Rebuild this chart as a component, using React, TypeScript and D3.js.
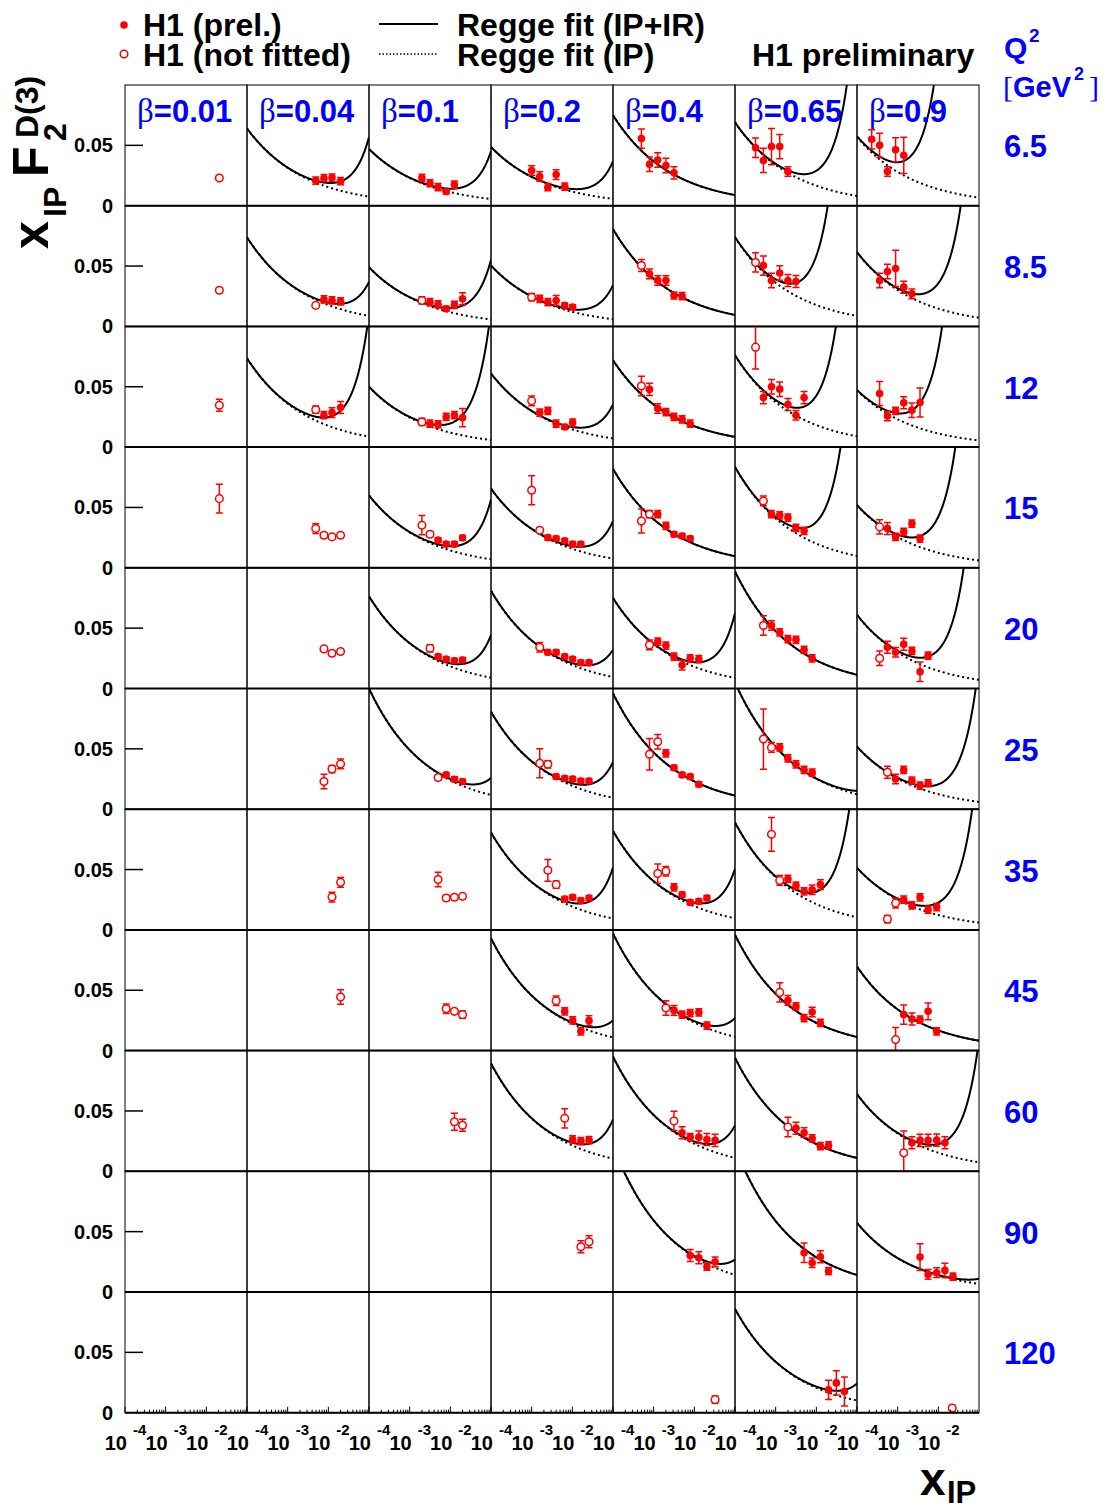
import React, { useEffect, useRef } from "react";
import * as d3 from "d3";

// bins of the grid
const betaBins = ["0.01", "0.04", "0.1", "0.2", "0.4", "0.65", "0.9"];
const q2Bins = ["6.5", "8.5", "12", "15", "20", "25", "35", "45", "60", "90", "120"];
const xTickExponents = [-4, -3, -2];

// each point: [beta index, x_IP, x_IP F2D(3), error, fitted (1) / not fitted (0)]
type Pt = [number, number, number, number, number];

const q2_6_5: Pt[] = [
  [0, 0.0209, 0.023, 0.002, 0],
  [1, 0.0049, 0.0208, 0.003, 1], [1, 0.0078, 0.0228, 0.003, 1], [1, 0.0123, 0.0233, 0.003, 1], [1, 0.02, 0.0203, 0.003, 1],
  [2, 0.002, 0.023, 0.003, 1], [2, 0.00316, 0.0186, 0.003, 1], [2, 0.005, 0.0153, 0.003, 1], [2, 0.0079, 0.0117, 0.002, 1], [2, 0.0126, 0.0175, 0.003, 1],
  [3, 0.001, 0.0292, 0.004, 1], [3, 0.00158, 0.0242, 0.004, 1], [3, 0.0025, 0.0153, 0.003, 1], [3, 0.004, 0.0258, 0.004, 1], [3, 0.0065, 0.0158, 0.003, 1],
  [4, 0.0005, 0.0556, 0.008, 1], [4, 0.00079, 0.0344, 0.006, 1], [4, 0.00126, 0.0378, 0.006, 1], [4, 0.002, 0.0333, 0.006, 1], [4, 0.00316, 0.0272, 0.005, 1],
  [5, 0.00032, 0.048, 0.008, 1], [5, 0.0005, 0.0375, 0.01, 1], [5, 0.00079, 0.049, 0.015, 1], [5, 0.00126, 0.049, 0.01, 1], [5, 0.002, 0.0283, 0.004, 1],
  [6, 0.00023, 0.055, 0.008, 1], [6, 0.00036, 0.05, 0.01, 1], [6, 0.00056, 0.0283, 0.004, 1], [6, 0.00089, 0.0464, 0.01, 1], [6, 0.00141, 0.0417, 0.015, 1],
];

const q2_8_5: Pt[] = [
  [0, 0.0209, 0.03, 0.002, 0],
  [1, 0.0049, 0.0174, 0.002, 0], [1, 0.0078, 0.0223, 0.003, 1], [1, 0.0123, 0.0215, 0.003, 1], [1, 0.02, 0.0207, 0.003, 1],
  [2, 0.002, 0.0215, 0.003, 0], [2, 0.00316, 0.0201, 0.003, 1], [2, 0.005, 0.0182, 0.003, 1], [2, 0.0079, 0.0146, 0.002, 1], [2, 0.0126, 0.0179, 0.003, 1], [2, 0.02, 0.0229, 0.005, 1],
  [3, 0.001, 0.0242, 0.003, 0], [3, 0.00158, 0.0229, 0.003, 1], [3, 0.0025, 0.0201, 0.003, 1], [3, 0.004, 0.0215, 0.004, 1], [3, 0.0065, 0.0174, 0.002, 1], [3, 0.0102, 0.016, 0.002, 1],
  [4, 0.0005, 0.0504, 0.005, 0], [4, 0.00079, 0.0435, 0.004, 1], [4, 0.00126, 0.038, 0.004, 1], [4, 0.002, 0.038, 0.004, 1], [4, 0.00316, 0.0256, 0.003, 1], [4, 0.005, 0.025, 0.003, 1],
  [5, 0.00032, 0.053, 0.008, 0], [5, 0.0005, 0.0504, 0.008, 1], [5, 0.00079, 0.038, 0.006, 1], [5, 0.00126, 0.0443, 0.006, 1], [5, 0.002, 0.038, 0.005, 1], [5, 0.00316, 0.0372, 0.005, 1],
  [6, 0.00036, 0.038, 0.006, 1], [6, 0.00056, 0.0455, 0.006, 1], [6, 0.00089, 0.048, 0.015, 1], [6, 0.00141, 0.0325, 0.005, 1], [6, 0.00224, 0.027, 0.004, 1],
];

const q2_12: Pt[] = [
  [0, 0.0209, 0.0347, 0.005, 0],
  [1, 0.0049, 0.031, 0.003, 0], [1, 0.0078, 0.0264, 0.003, 1], [1, 0.0123, 0.0286, 0.004, 1], [1, 0.02, 0.0328, 0.005, 1],
  [2, 0.002, 0.0208, 0.003, 0], [2, 0.00316, 0.0194, 0.003, 1], [2, 0.005, 0.0189, 0.003, 1], [2, 0.0079, 0.025, 0.003, 1], [2, 0.0126, 0.0264, 0.003, 1], [2, 0.02, 0.0244, 0.0075, 1],
  [3, 0.001, 0.0383, 0.004, 0], [3, 0.00158, 0.0286, 0.003, 1], [3, 0.0025, 0.03, 0.003, 1], [3, 0.004, 0.0194, 0.003, 1], [3, 0.0065, 0.0167, 0.002, 1], [3, 0.0102, 0.0203, 0.003, 1],
  [4, 0.0005, 0.0506, 0.008, 0], [4, 0.00079, 0.0478, 0.005, 1], [4, 0.00126, 0.032, 0.004, 1], [4, 0.002, 0.029, 0.003, 1], [4, 0.00316, 0.025, 0.003, 1], [4, 0.005, 0.023, 0.003, 1], [4, 0.0079, 0.0194, 0.003, 1],
  [5, 0.00032, 0.0828, 0.018, 0], [5, 0.0005, 0.041, 0.005, 1], [5, 0.00079, 0.05, 0.006, 1], [5, 0.00126, 0.048, 0.006, 1], [5, 0.002, 0.0353, 0.005, 1], [5, 0.00316, 0.0264, 0.004, 1], [5, 0.005, 0.041, 0.005, 1],
  [6, 0.00036, 0.0444, 0.01, 1], [6, 0.00056, 0.0258, 0.004, 1], [6, 0.00089, 0.03, 0.003, 1], [6, 0.00141, 0.0367, 0.005, 1], [6, 0.00224, 0.0306, 0.006, 1], [6, 0.00355, 0.037, 0.012, 1],
];

const q2_15: Pt[] = [
  [0, 0.0209, 0.0573, 0.012, 0],
  [1, 0.0049, 0.0325, 0.004, 0], [1, 0.0078, 0.027, 0.002, 0], [1, 0.0123, 0.0256, 0.002, 0], [1, 0.02, 0.027, 0.002, 0],
  [2, 0.002, 0.0353, 0.008, 0], [2, 0.00316, 0.0278, 0.002, 0], [2, 0.005, 0.0229, 0.002, 1], [2, 0.0079, 0.0196, 0.002, 1], [2, 0.0126, 0.0196, 0.002, 1], [2, 0.02, 0.0248, 0.002, 1],
  [3, 0.001, 0.0642, 0.012, 0], [3, 0.00158, 0.0311, 0.002, 0], [3, 0.0025, 0.025, 0.002, 1], [3, 0.004, 0.0242, 0.002, 1], [3, 0.0065, 0.0223, 0.002, 1], [3, 0.0102, 0.0196, 0.002, 1], [3, 0.0162, 0.0196, 0.002, 1],
  [4, 0.0005, 0.0388, 0.01, 0], [4, 0.00079, 0.0444, 0.003, 0], [4, 0.00126, 0.0444, 0.003, 1], [4, 0.002, 0.0347, 0.003, 1], [4, 0.00316, 0.0278, 0.002, 1], [4, 0.005, 0.0264, 0.002, 1], [4, 0.0079, 0.0242, 0.002, 1],
  [5, 0.0005, 0.0554, 0.004, 0], [5, 0.00079, 0.0444, 0.003, 1], [5, 0.00126, 0.0435, 0.003, 1], [5, 0.002, 0.0416, 0.003, 1], [5, 0.00316, 0.033, 0.003, 1], [5, 0.005, 0.0306, 0.003, 1],
  [6, 0.00036, 0.0339, 0.006, 0], [6, 0.00056, 0.0325, 0.005, 1], [6, 0.00089, 0.0256, 0.003, 1], [6, 0.00141, 0.0298, 0.003, 1], [6, 0.00224, 0.0366, 0.003, 1], [6, 0.00355, 0.0242, 0.003, 1],
];

const q2_20: Pt[] = [
  [1, 0.0078, 0.0328, 0.002, 0], [1, 0.0123, 0.0292, 0.002, 0], [1, 0.02, 0.0306, 0.002, 0],
  [2, 0.00316, 0.0333, 0.003, 0], [2, 0.005, 0.0264, 0.002, 1], [2, 0.0079, 0.0244, 0.002, 1], [2, 0.0126, 0.023, 0.002, 1], [2, 0.02, 0.0236, 0.002, 1],
  [3, 0.00158, 0.0342, 0.004, 0], [3, 0.0025, 0.03, 0.002, 1], [3, 0.004, 0.03, 0.002, 1], [3, 0.0065, 0.0264, 0.002, 1], [3, 0.0102, 0.0244, 0.002, 1], [3, 0.0162, 0.0214, 0.002, 1], [3, 0.0257, 0.0214, 0.002, 1],
  [4, 0.00079, 0.0361, 0.004, 0], [4, 0.00126, 0.0389, 0.003, 1], [4, 0.002, 0.0356, 0.003, 1], [4, 0.00316, 0.0264, 0.003, 1], [4, 0.005, 0.0194, 0.004, 1], [4, 0.0079, 0.025, 0.003, 1], [4, 0.0129, 0.0244, 0.003, 1],
  [5, 0.0005, 0.0522, 0.008, 0], [5, 0.00079, 0.0522, 0.004, 1], [5, 0.00126, 0.0464, 0.003, 1], [5, 0.002, 0.041, 0.003, 1], [5, 0.00316, 0.0403, 0.003, 1], [5, 0.005, 0.032, 0.003, 1], [5, 0.0079, 0.025, 0.003, 1],
  [6, 0.00036, 0.025, 0.006, 0], [6, 0.00056, 0.0342, 0.005, 1], [6, 0.00089, 0.03, 0.004, 1], [6, 0.00141, 0.0367, 0.005, 1], [6, 0.00224, 0.0311, 0.003, 1], [6, 0.00355, 0.0139, 0.008, 1], [6, 0.0056, 0.0272, 0.003, 1],
];

const q2_25: Pt[] = [
  [1, 0.0078, 0.0229, 0.006, 0], [1, 0.0123, 0.0333, 0.003, 0], [1, 0.02, 0.0375, 0.004, 0],
  [2, 0.005, 0.0262, 0.002, 0], [2, 0.0079, 0.0284, 0.002, 1], [2, 0.0126, 0.0248, 0.002, 1], [2, 0.02, 0.0229, 0.002, 1],
  [3, 0.00158, 0.038, 0.012, 0], [3, 0.0025, 0.0372, 0.003, 0], [3, 0.004, 0.027, 0.002, 1], [3, 0.0065, 0.0256, 0.002, 1], [3, 0.0102, 0.025, 0.002, 1], [3, 0.0162, 0.0234, 0.002, 1], [3, 0.0257, 0.0234, 0.002, 1],
  [4, 0.00079, 0.0455, 0.013, 0], [4, 0.00126, 0.0559, 0.006, 0], [4, 0.002, 0.0463, 0.003, 1], [4, 0.00316, 0.0344, 0.002, 1], [4, 0.005, 0.0284, 0.002, 1], [4, 0.0079, 0.027, 0.002, 1], [4, 0.0129, 0.0207, 0.002, 1],
  [5, 0.0005, 0.0581, 0.025, 0], [5, 0.00079, 0.0512, 0.004, 0], [5, 0.00126, 0.0512, 0.003, 1], [5, 0.002, 0.0421, 0.003, 1], [5, 0.00316, 0.0372, 0.003, 1], [5, 0.005, 0.0325, 0.003, 1], [5, 0.0079, 0.0303, 0.003, 1],
  [6, 0.00056, 0.0306, 0.005, 0], [6, 0.00089, 0.025, 0.004, 1], [6, 0.00141, 0.0325, 0.003, 1], [6, 0.00224, 0.0237, 0.003, 1], [6, 0.00355, 0.0196, 0.003, 1], [6, 0.0056, 0.0215, 0.003, 1],
];

const q2_35: Pt[] = [
  [1, 0.0123, 0.0272, 0.004, 0], [1, 0.02, 0.0394, 0.004, 0],
  [2, 0.005, 0.0417, 0.006, 0], [2, 0.0079, 0.0264, 0.002, 0], [2, 0.0126, 0.027, 0.002, 0], [2, 0.02, 0.0278, 0.002, 0],
  [3, 0.0025, 0.0494, 0.009, 0], [3, 0.004, 0.0375, 0.003, 0], [3, 0.0065, 0.0256, 0.002, 1], [3, 0.0102, 0.027, 0.002, 1], [3, 0.0162, 0.0244, 0.002, 1], [3, 0.0257, 0.0264, 0.002, 1],
  [4, 0.00126, 0.0467, 0.008, 0], [4, 0.002, 0.0486, 0.004, 0], [4, 0.00316, 0.0353, 0.003, 1], [4, 0.005, 0.0292, 0.002, 1], [4, 0.0079, 0.0228, 0.002, 1], [4, 0.0129, 0.0236, 0.002, 1], [4, 0.0204, 0.0264, 0.002, 1],
  [5, 0.00079, 0.0792, 0.014, 0], [5, 0.00126, 0.041, 0.004, 0], [5, 0.002, 0.0422, 0.003, 1], [5, 0.00316, 0.0367, 0.003, 1], [5, 0.005, 0.032, 0.003, 1], [5, 0.0079, 0.0333, 0.004, 1], [5, 0.0126, 0.0375, 0.004, 1],
  [6, 0.00056, 0.0089, 0.003, 0], [6, 0.00089, 0.0222, 0.004, 0], [6, 0.00141, 0.025, 0.003, 1], [6, 0.00224, 0.0203, 0.003, 1], [6, 0.00355, 0.027, 0.003, 1], [6, 0.0056, 0.0167, 0.003, 1], [6, 0.0091, 0.0189, 0.003, 1],
];

const q2_45: Pt[] = [
  [1, 0.02, 0.0444, 0.006, 0],
  [2, 0.0079, 0.0347, 0.004, 0], [2, 0.0126, 0.0325, 0.002, 0], [2, 0.02, 0.0298, 0.003, 0],
  [3, 0.004, 0.0413, 0.004, 0], [3, 0.0065, 0.0325, 0.003, 1], [3, 0.0102, 0.025, 0.003, 1], [3, 0.0162, 0.016, 0.003, 1], [3, 0.0257, 0.0248, 0.004, 1],
  [4, 0.002, 0.0353, 0.006, 0], [4, 0.00316, 0.0333, 0.004, 1], [4, 0.005, 0.0298, 0.003, 1], [4, 0.0079, 0.0311, 0.003, 1], [4, 0.0129, 0.0317, 0.003, 1], [4, 0.0204, 0.0207, 0.003, 1],
  [5, 0.00126, 0.0482, 0.008, 0], [5, 0.002, 0.0416, 0.004, 1], [5, 0.00316, 0.0366, 0.003, 1], [5, 0.005, 0.027, 0.003, 1], [5, 0.0079, 0.032, 0.004, 1], [5, 0.0126, 0.0229, 0.003, 1],
  [6, 0.00089, 0.0091, 0.01, 0], [6, 0.00141, 0.0298, 0.008, 1], [6, 0.00224, 0.0262, 0.005, 1], [6, 0.00355, 0.0256, 0.003, 1], [6, 0.0056, 0.0325, 0.007, 1], [6, 0.0091, 0.016, 0.003, 1],
];

const q2_60: Pt[] = [
  [2, 0.0126, 0.0411, 0.007, 0], [2, 0.02, 0.0381, 0.005, 0],
  [3, 0.0065, 0.0439, 0.008, 0], [3, 0.0102, 0.0264, 0.003, 1], [3, 0.0162, 0.025, 0.003, 1], [3, 0.0257, 0.0258, 0.003, 1],
  [4, 0.00316, 0.0417, 0.008, 0], [4, 0.005, 0.032, 0.005, 1], [4, 0.0079, 0.0283, 0.003, 1], [4, 0.0129, 0.0283, 0.005, 1], [4, 0.0204, 0.0264, 0.005, 1], [4, 0.0324, 0.0256, 0.005, 1],
  [5, 0.002, 0.0367, 0.008, 0], [5, 0.00316, 0.0356, 0.005, 1], [5, 0.005, 0.032, 0.004, 1], [5, 0.0079, 0.0272, 0.003, 1], [5, 0.0126, 0.0208, 0.003, 1], [5, 0.02, 0.0214, 0.003, 1],
  [6, 0.00141, 0.0153, 0.018, 0], [6, 0.00224, 0.0236, 0.005, 1], [6, 0.00355, 0.0256, 0.005, 1], [6, 0.0056, 0.0256, 0.005, 1], [6, 0.0091, 0.0258, 0.005, 1], [6, 0.0145, 0.0236, 0.005, 1],
];

const q2_90: Pt[] = [
  [3, 0.0162, 0.0375, 0.005, 0], [3, 0.0257, 0.0416, 0.005, 0],
  [4, 0.0079, 0.0303, 0.005, 1], [4, 0.0129, 0.0284, 0.005, 1], [4, 0.0204, 0.021, 0.003, 1], [4, 0.0324, 0.025, 0.004, 1],
  [5, 0.005, 0.0325, 0.008, 1], [5, 0.0079, 0.0242, 0.004, 1], [5, 0.0126, 0.0292, 0.005, 1], [5, 0.02, 0.0174, 0.003, 1],
  [6, 0.00355, 0.0289, 0.011, 1], [6, 0.0056, 0.0146, 0.004, 1], [6, 0.0091, 0.016, 0.004, 1], [6, 0.0145, 0.0179, 0.006, 1], [6, 0.0229, 0.0127, 0.003, 1],
];

const q2_120: Pt[] = [
  [4, 0.0324, 0.0108, 0.003, 0],
  [5, 0.02, 0.0189, 0.008, 1], [5, 0.031, 0.0247, 0.01, 1], [5, 0.049, 0.0175, 0.012, 1],
  [6, 0.022, 0.0039, 0.002, 0],
];

const pointsByQ2 = [q2_6_5, q2_8_5, q2_12, q2_15, q2_20, q2_25, q2_35, q2_45, q2_60, q2_90, q2_120];

// Regge fit per (Q2 row, beta column): pomeron term at x_IP = 1e-4, reggeon term at x_IP = 0.01
const fitPomeron = [
  [null, 0.064, 0.047, 0.0486, 0.075, 0.069, 0.057],
  [null, 0.0738, 0.049, 0.0504, 0.0807, 0.0738, 0.0614],
  [null, 0.0736, 0.05, 0.061, 0.072, 0.076, 0.047],
  [null, null, 0.06, 0.0656, 0.082, 0.0835, 0.0518],
  [null, null, 0.0764, 0.081, 0.075, 0.097, 0.061],
  [null, null, 0.1, 0.0807, 0.096, 0.105, 0.0518],
  [null, null, null, 0.0806, 0.082, 0.089, 0.0514],
  [null, null, null, 0.093, 0.097, 0.0959, 0.0697],
  [null, null, null, 0.0894, 0.095, 0.094, 0.0639],
  [null, null, null, null, 0.121, 0.12, 0.0573],
  [null, null, null, null, null, 0.086, null],
];
const fitReggeon = [
  [0, 0.0035, 0.0028, 0.0022, 0, 0.0124, 0.114],
  [0, 0.002, 0.0035, 0.002, 0, 0.0407, 0.021],
  [0, 0.0072, 0.0076, 0.002, 0, 0.0244, 0.07],
  [0, 0, 0.0035, 0.0022, 0, 0.018, 0.03],
  [0, 0, 0.0025, 0.0016, 0.0038, 0, 0.0174],
  [0, 0, 0.001, 0.0021, 0, 0.0002, 0.0082],
  [0, 0, 0, 0.003, 0.0029, 0.0103, 0.0103],
  [0, 0, 0, 0.001, 0.0011, 0, 0],
  [0, 0, 0, 0.0023, 0.0019, 0, 0.0072],
  [0, 0, 0, 0, 0.0009, 0, 0.0003],
  [0, 0, 0, 0, 0, 0.001, 0],
];
const pomeronSlope = 0.31;
const reggeonSlope = 1.15;

const font = "'Liberation Sans', Arial, Helvetica, sans-serif";
const red = "#ff0000";
const blue = "#0000ff";

export default function App() {
  const ref = useRef<SVGSVGElement>(null);

  useEffect(() => {
    const svg = d3.select(ref.current);
    svg.selectAll("*").remove();

    // grid geometry
    const left = 125, top = 85, pw = 122, ph = 120.7;
    const defs = svg.append("defs");
    const xs = d3.range(0, 301).map((i) => 1e-4 * Math.pow(1e3, i / 300));

    q2Bins.forEach((q2, r) => {
      const y0 = top + r * ph;
      const y1 = y0 + ph;
      const y = d3.scaleLinear().domain([0, 0.1]).range([y1, y0]);

      betaBins.forEach((beta, c) => {
        const x0 = left + c * pw;
        const x = d3.scaleLog().domain([1e-4, 1e-1]).range([x0, x0 + pw]);
        const clipId = "clip-" + r + "-" + c;
        defs.append("clipPath").attr("id", clipId)
          .append("rect").attr("x", x0).attr("y", y0).attr("width", pw).attr("height", ph);
        const g = svg.append("g").attr("clip-path", "url(#" + clipId + ")");

        const A = fitPomeron[r][c];
        const C = fitReggeon[r][c];
        if (A != null) {
          const ip = (v: number) => A * Math.pow(v / 1e-4, -pomeronSlope);
          const ir = (v: number) => C * Math.pow(v / 0.01, reggeonSlope);
          const dotted = d3.line<number>().x((v) => x(v)).y((v) => y(Math.min(ip(v), 0.15)));
          const solid = d3.line<number>().x((v) => x(v)).y((v) => y(Math.min(ip(v) + ir(v), 0.15)));
          g.append("path").attr("d", dotted(xs)).attr("fill", "none")
            .attr("stroke", "#000").attr("stroke-width", 2).attr("stroke-dasharray", "2,3");
          g.append("path").attr("d", solid(xs)).attr("fill", "none")
            .attr("stroke", "#000").attr("stroke-width", 2);
        }

        const pts = pointsByQ2[r].filter((p) => p[0] === c);
        pts.forEach((p) => {
          const px = x(p[1]);
          const lo = y(p[2] - p[3]);
          const hi = y(p[2] + p[3]);
          g.append("line").attr("x1", px).attr("x2", px).attr("y1", lo).attr("y2", hi)
            .attr("stroke", red).attr("stroke-width", 1.5);
          [lo, hi].forEach((yy) => {
            g.append("line").attr("x1", px - 3.5).attr("x2", px + 3.5).attr("y1", yy).attr("y2", yy)
              .attr("stroke", red).attr("stroke-width", 1.5);
          });
          if (p[4]) {
            g.append("circle").attr("cx", px).attr("cy", y(p[2])).attr("r", 3.8).attr("fill", red);
          } else {
            g.append("circle").attr("cx", px).attr("cy", y(p[2])).attr("r", 3.8)
              .attr("fill", "#fff").attr("stroke", red).attr("stroke-width", 1.5);
          }
        });

        // frame
        svg.append("rect").attr("x", x0).attr("y", y0).attr("width", pw).attr("height", ph)
          .attr("fill", "none").attr("stroke", "#000").attr("stroke-width", 1);

        // ticks and labels under the bottom row
        if (r === q2Bins.length - 1) {
          for (let e = -4; e < -1; e++) {
            for (let k = 1; k < 10; k++) {
              const v = k * Math.pow(10, e);
              const len = k === 1 ? 6 : 3;
              svg.append("line").attr("x1", x(v)).attr("x2", x(v)).attr("y1", y1).attr("y2", y1 - len)
                .attr("stroke", "#000").attr("stroke-width", 1);
            }
          }
          xTickExponents.forEach((e) => {
            const tx = x(Math.pow(10, e));
            svg.append("text").attr("x", tx + 2).attr("y", 1450).attr("text-anchor", "end")
              .attr("font-family", font).attr("font-weight", "bold").attr("font-size", 20).text("10");
            svg.append("text").attr("x", tx + 8).attr("y", 1435)
              .attr("font-family", font).attr("font-weight", "bold").attr("font-size", 15).text(String(e));
          });
        }
      });

      // x axis line of the row
      svg.append("line").attr("x1", left).attr("x2", left + 7 * pw).attr("y1", y1).attr("y2", y1)
        .attr("stroke", "#000").attr("stroke-width", 2);

      // y axis on the first column
      svg.append("line").attr("x1", left).attr("x2", left + 18).attr("y1", y(0.05)).attr("y2", y(0.05))
        .attr("stroke", "#000").attr("stroke-width", 1.5);
      svg.append("text").attr("x", 113).attr("y", y(0.05) + 7).attr("text-anchor", "end")
        .attr("font-family", font).attr("font-weight", "bold").attr("font-size", 20).text("0.05");
      svg.append("text").attr("x", 113).attr("y", y1 + 7).attr("text-anchor", "end")
        .attr("font-family", font).attr("font-weight", "bold").attr("font-size", 20).text("0");

      // Q2 value on the right
      svg.append("text").attr("x", 1004).attr("y", y(0.05) + 12)
        .attr("font-family", font).attr("font-weight", "bold").attr("font-size", 31)
        .attr("fill", blue).text(q2);
    });

    // beta headers
    betaBins.forEach((beta, c) => {
      const t = svg.append("text").attr("x", left + c * pw + 12).attr("y", 122)
        .attr("font-family", font).attr("font-weight", "bold").attr("font-size", 31).attr("fill", blue);
      t.append("tspan").attr("font-family", "'Liberation Serif', 'DejaVu Serif', serif")
        .attr("font-weight", "normal").attr("font-size", 33).text("β");
      t.append("tspan").text("=" + beta);
    });

    // Q2 header
    svg.append("text").attr("x", 1004).attr("y", 58).attr("font-family", font).attr("font-weight", "bold")
      .attr("font-size", 30).attr("fill", blue).text("Q");
    svg.append("text").attr("x", 1029).attr("y", 42).attr("font-family", font).attr("font-weight", "bold")
      .attr("font-size", 19).attr("fill", blue).text("2");
    svg.append("text").attr("x", 1003).attr("y", 97).attr("font-family", "'Liberation Serif', serif")
      .attr("font-size", 30).attr("fill", blue).text("[");
    svg.append("text").attr("x", 1013).attr("y", 97).attr("font-family", font).attr("font-weight", "bold")
      .attr("font-size", 29).attr("fill", blue).text("GeV");
    svg.append("text").attr("x", 1074).attr("y", 80).attr("font-family", font).attr("font-weight", "bold")
      .attr("font-size", 18).attr("fill", blue).text("2");
    svg.append("text").attr("x", 1089).attr("y", 97).attr("font-family", "'Liberation Serif', serif")
      .attr("font-size", 30).attr("fill", blue).text("]");

    // legend
    const legendText = (tx: number, ty: number, s: string) =>
      svg.append("text").attr("x", tx).attr("y", ty).attr("font-family", font)
        .attr("font-weight", "bold").attr("font-size", 32).text(s);
    svg.append("circle").attr("cx", 124).attr("cy", 25).attr("r", 3.8).attr("fill", red);
    svg.append("circle").attr("cx", 124).attr("cy", 54).attr("r", 3.8).attr("fill", "#fff")
      .attr("stroke", red).attr("stroke-width", 1.5);
    legendText(143, 36, "H1 (prel.)");
    legendText(143, 66, "H1 (not fitted)");
    svg.append("line").attr("x1", 379).attr("x2", 438).attr("y1", 24).attr("y2", 24)
      .attr("stroke", "#000").attr("stroke-width", 2);
    svg.append("line").attr("x1", 379).attr("x2", 438).attr("y1", 54).attr("y2", 54)
      .attr("stroke", "#000").attr("stroke-width", 1.5).attr("stroke-dasharray", "1.5,2");
    legendText(457, 36, "Regge fit (IP+IR)");
    legendText(457, 66, "Regge fit (IP)");
    legendText(752, 66, "H1 preliminary");

    // axis titles
    svg.append("text").attr("x", 920).attr("y", 1495).attr("font-family", font).attr("font-weight", "bold")
      .attr("font-size", 46).text("x");
    svg.append("text").attr("x", 947).attr("y", 1503).attr("font-family", font).attr("font-weight", "bold")
      .attr("font-size", 31).text("IP");

    const yt = svg.append("g").attr("transform", "translate(48,253) rotate(-90)")
      .attr("font-family", font).attr("font-weight", "bold");
    yt.append("text").attr("x", 4).attr("y", 0).attr("font-size", 50).text("x");
    yt.append("text").attr("x", 36).attr("y", 18).attr("font-size", 32).text("IP");
    yt.append("text").attr("x", 76).attr("y", 0).attr("font-size", 50).text("F");
    yt.append("text").attr("x", 112).attr("y", 18).attr("font-size", 32).text("2");
    yt.append("text").attr("x", 115).attr("y", -10).attr("font-size", 32).text("D(3)");
  }, []);

  return (
    <div style={{ position: "absolute", left: 0, top: 0 }}>
      <svg ref={ref} width={1109} height={1510} style={{ background: "#fff" }} />
    </div>
  );
}
